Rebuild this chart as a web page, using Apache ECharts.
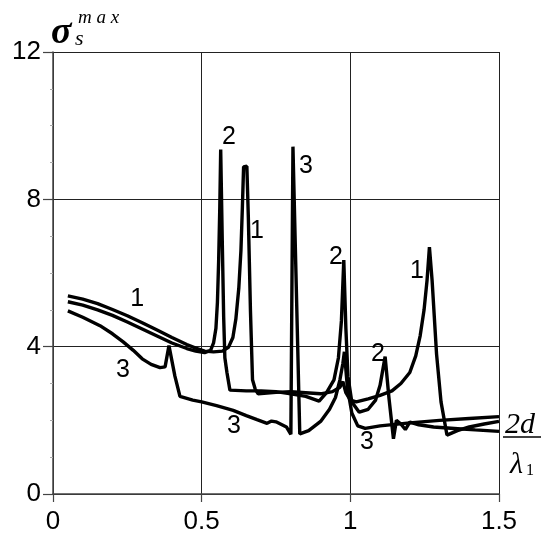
<!DOCTYPE html>
<html><head><meta charset="utf-8">
<script src="https://cdn.jsdelivr.net/npm/echarts@6/dist/echarts.min.js"></script>
<style>html,body{margin:0;padding:0;background:#fff}#c{width:541px;height:535px}</style>
</head><body><div id="c"></div>
<script>
const xTicks = [0, 0.5, 1, 1.5];
const yTicks = [0, 4, 8, 12];
const curve1 = [[0.05,5.38],[0.10,5.29],[0.15,5.17],[0.20,5.01],[0.25,4.84],[0.30,4.65],[0.35,4.45],[0.40,4.25],[0.45,4.06],[0.48,3.96],[0.51,3.88],[0.54,3.86],[0.57,3.88],[0.59,3.98],[0.605,4.25],[0.615,4.75],[0.625,5.6],[0.632,6.6],[0.637,7.8],[0.641,8.88],[0.652,8.9],[0.657,7.5],[0.664,5.0],[0.671,3.1],[0.68,2.85],[0.69,2.72],[0.75,2.76],[0.80,2.78],[0.85,2.75],[0.90,2.72],[0.94,2.78],[0.965,2.9],[0.975,3.05],[0.985,2.75],[1.0,2.55],[1.02,2.5],[1.06,2.58],[1.10,2.68],[1.14,2.8],[1.17,3.0],[1.20,3.3],[1.22,3.75],[1.235,4.3],[1.248,5.0],[1.258,5.8],[1.266,6.7],[1.275,5.8],[1.29,3.8],[1.305,2.5],[1.325,1.6],[1.36,1.72],[1.40,1.82],[1.45,1.9],[1.5,1.97]];
const curve2 = [[0.05,5.22],[0.10,5.13],[0.15,5.0],[0.20,4.85],[0.25,4.67],[0.30,4.48],[0.35,4.29],[0.40,4.1],[0.45,3.95],[0.48,3.88],[0.51,3.84],[0.53,3.9],[0.54,4.1],[0.548,4.5],[0.553,5.2],[0.557,6.3],[0.561,7.8],[0.564,9.35],[0.569,7.0],[0.574,4.8],[0.578,3.7],[0.585,3.3],[0.595,2.82],[0.65,2.8],[0.70,2.8],[0.75,2.78],[0.80,2.72],[0.85,2.65],[0.895,2.52],[0.92,2.75],[0.945,3.1],[0.96,3.7],[0.97,4.7],[0.978,6.35],[0.985,4.5],[0.992,3.2],[1.005,2.5],[1.03,2.22],[1.06,2.3],[1.085,2.55],[1.10,2.95],[1.117,3.73],[1.13,2.6],[1.145,1.5],[1.155,2.0],[1.17,1.9],[1.185,1.75],[1.2,1.95],[1.23,1.88],[1.28,1.82],[1.35,1.78],[1.42,1.74],[1.5,1.7]];
const curve3 = [[0.05,4.97],[0.10,4.8],[0.158,4.57],[0.20,4.35],[0.236,4.13],[0.27,3.9],[0.30,3.67],[0.33,3.52],[0.36,3.43],[0.377,3.45],[0.39,4.03],[0.41,3.2],[0.427,2.65],[0.47,2.55],[0.50,2.5],[0.55,2.4],[0.606,2.27],[0.65,2.13],[0.686,2.02],[0.72,1.92],[0.735,1.98],[0.75,1.96],[0.77,1.88],[0.785,1.82],[0.80,1.62],[0.807,9.43],[0.812,9.42],[0.83,1.63],[0.86,1.72],[0.90,1.97],[0.93,2.3],[0.95,2.62],[0.965,3.1],[0.975,3.55],[0.98,3.86],[0.99,2.9],[1.005,2.2],[1.025,1.85],[1.05,1.78],[1.10,1.85],[1.20,1.93],[1.30,2.0],[1.40,2.05],[1.5,2.1]];
const curveLabels = [[0.283,5.3,'1'],[0.235,3.37,'3'],[0.592,9.7,'2'],[0.686,7.14,'1'],[0.851,8.9,'3'],[0.952,6.43,'2'],[1.093,3.81,'2'],[1.224,6.05,'1'],[0.609,1.84,'3'],[1.056,1.41,'3']];

const chart = echarts.init(document.getElementById('c'), null, {renderer:'canvas'});
const lineStyle = {color:'#000', width:3.4};
const mk = d => ({type:'line', data:d, showSymbol:false, symbol:'none', lineStyle, silent:true, z:3});
const fontSans = '"Liberation Sans", Arial, sans-serif';
const fontSerif = '"Liberation Serif", "Times New Roman", serif';
chart.setOption({
  animation:false,
  backgroundColor:'#fff',
  grid:{left:53, right:42, top:52, bottom:39},
  xAxis:{type:'value', min:xTicks[0], max:xTicks[xTicks.length-1], interval:0.5,
    axisLine:{show:true, onZero:false, lineStyle:{color:'#444', width:1.5}},
    axisTick:{show:true, length:8, lineStyle:{color:'#444', width:1.2}},
    axisLabel:{fontSize:26, color:'#000', fontFamily:fontSans, margin:15, formatter:v=>String(v)},
    splitLine:{show:true, lineStyle:{color:'#222', width:1}}},
  yAxis:{type:'value', min:yTicks[0], max:yTicks[yTicks.length-1], interval:4,
    axisLine:{show:true, onZero:false, lineStyle:{color:'#444', width:1.5}},
    axisTick:{show:true, length:10, lineStyle:{color:'#444', width:1.2}},
    minorTick:{show:true, splitNumber:4, length:3, lineStyle:{color:'#aaa'}},
    axisLabel:{fontSize:26, color:'#000', fontFamily:fontSans, margin:12},
    splitLine:{show:true, lineStyle:{color:'#222', width:1}}},
  series:[mk(curve1), mk(curve2), mk(curve3),
    {type:'scatter', data:curveLabels, symbolSize:0, silent:true, z:5,
     itemStyle:{color:'#000', opacity:1},
     label:{show:true, position:'inside', formatter:p=>p.data[2], fontSize:25, color:'#000', textBorderWidth:0, opacity:1, fontFamily:fontSans}}],
  graphic:[
    {type:'text', left:51, top:14, style:{text:'σ', font:'italic bold 38px '+fontSerif, fill:'#000'}},
    {type:'text', left:75, top:28, style:{text:'s', font:'italic 22px '+fontSerif, fill:'#000'}},
    {type:'text', left:78, top:8, style:{text:'m a x', font:'italic 19px '+fontSerif, fill:'#000'}},
    {type:'text', left:505, top:410, style:{text:'2d', font:'italic 30px '+fontSerif, fill:'#000'}},
    {type:'line', shape:{x1:503, y1:437, x2:541, y2:437}, style:{stroke:'#000', lineWidth:1.5}},
    {type:'text', left:510, top:450, style:{text:'λ', font:'italic 30px '+fontSerif, fill:'#000'}},
    {type:'text', left:526, top:463, style:{text:'1', font:'16px '+fontSerif, fill:'#000'}}
  ]
});
</script></body></html>
